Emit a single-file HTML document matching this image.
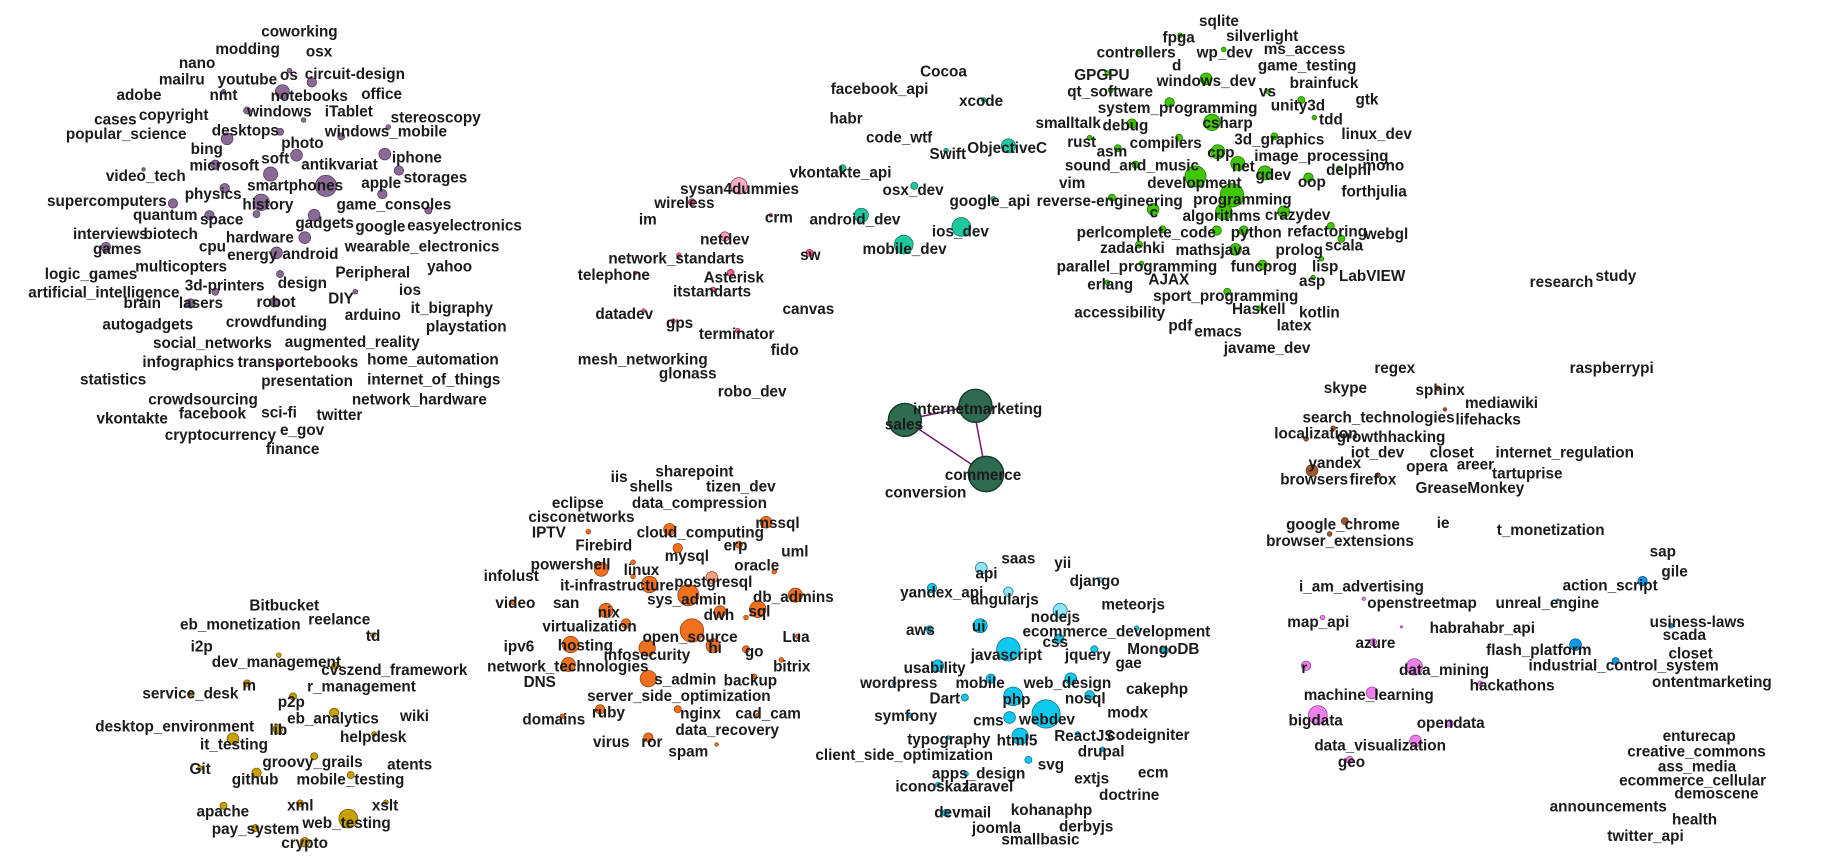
<!DOCTYPE html>
<html><head><meta charset="utf-8"><style>
html,body{margin:0;padding:0;background:#fff;width:1845px;height:861px;overflow:hidden}
svg{display:block}
text{font-family:"Liberation Sans",Arial,sans-serif;font-size:13px;font-weight:bold;fill:#1a1a1a}
.p circle{fill:#8a6a96;stroke:#4a3552;stroke-width:.6}
.g circle{fill:#3fc800;stroke:#1d6a00;stroke-width:.6}
.t circle{fill:#1fc9a0;stroke:#0d6a52;stroke-width:.6}
.k circle{fill:#f06090;stroke:#8a2a4a;stroke-width:.6}
.o circle{fill:#f07020;stroke:#8a3a08;stroke-width:.6}
.c circle{fill:#10c8ee;stroke:#0a6a80;stroke-width:.6}
.m circle{fill:#ee80ee;stroke:#8a3a8a;stroke-width:.6}
.b circle{fill:#1098e8;stroke:#0a5080;stroke-width:.6}
.y circle{fill:#c8a000;stroke:#6a5000;stroke-width:.6}
.s circle{fill:#a0582a;stroke:#5a2a10;stroke-width:.6}
.d circle{fill:#2e6b50;stroke:#123a28;stroke-width:1.2}
</style></head><body>
<svg width="1845" height="861" viewBox="0 0 1568 732" preserveAspectRatio="none" xmlns="http://www.w3.org/2000/svg">
<g class="p">
<circle cx="277" cy="158" r="9"/><circle cx="222" cy="172" r="7"/><circle cx="240" cy="78" r="6"/><circle cx="230" cy="148" r="6"/><circle cx="252" cy="132" r="5"/><circle cx="193" cy="118" r="5"/><circle cx="183" cy="140" r="4"/><circle cx="267" cy="183" r="5"/><circle cx="259" cy="202" r="5"/><circle cx="235" cy="215" r="5"/><circle cx="327" cy="131" r="5"/><circle cx="325" cy="165" r="4"/><circle cx="339" cy="145" r="4"/><circle cx="265" cy="70" r="4"/><circle cx="210" cy="94" r="3"/><circle cx="191" cy="160" r="4"/><circle cx="178" cy="183" r="4"/><circle cx="147" cy="173" r="4"/><circle cx="90" cy="210" r="4"/><circle cx="364" cy="179" r="3"/><circle cx="162" cy="258" r="4"/><circle cx="233" cy="257" r="4"/><circle cx="238" cy="233" r="3"/><circle cx="183" cy="248" r="3"/><circle cx="290" cy="116" r="3"/><circle cx="218" cy="182" r="3"/><circle cx="238" cy="112" r="3"/><circle cx="258" cy="102" r="2"/><circle cx="302" cy="248" r="2"/><circle cx="246" cy="60" r="2"/><circle cx="190" cy="78" r="2"/><circle cx="330" cy="108" r="2"/><circle cx="238" cy="310" r="2"/><circle cx="122" cy="144" r="1.5"/>
</g>
<g>
<text x="222" y="31">coworking</text><text x="183" y="46">modding</text><text x="260" y="48">osx</text><text x="152" y="58">nano</text><text x="135" y="72">mailru</text><text x="185" y="72">youtube</text><text x="238" y="68">os</text><text x="259" y="67">circuit-design</text><text x="99" y="85">adobe</text><text x="178" y="85">nmt</text><text x="230" y="86">notebooks</text><text x="307" y="84">office</text><text x="80" y="106">cases</text><text x="118" y="102">copyright</text><text x="210" y="99">windows</text><text x="276" y="99">iTablet</text><text x="332" y="104">stereoscopy</text><text x="56" y="118">popular_science</text><text x="180" y="115">desktops</text><text x="276" y="116">windows_mobile</text><text x="162" y="131">bing</text><text x="239" y="126">photo</text><text x="161" y="145">microsoft</text><text x="222" y="139">soft</text><text x="256" y="144">antikvariat</text><text x="333" y="138">iphone</text><text x="90" y="154">video_tech</text><text x="307" y="160">apple</text><text x="343" y="155">storages</text><text x="157" y="169">physics</text><text x="210" y="162">smartphones</text><text x="40" y="175">supercomputers</text><text x="206" y="178">history</text><text x="286" y="178">game_consoles</text><text x="113" y="187">quantum</text><text x="170" y="191">space</text><text x="251" y="194">gadgets</text><text x="302" y="197">google</text><text x="346" y="196">easyelectronics</text><text x="62" y="203">interviews</text><text x="122" y="203">biotech</text><text x="192" y="206">hardware</text><text x="79" y="216">games</text><text x="169" y="214">cpu</text><text x="193" y="221">energy</text><text x="240" y="220">android</text><text x="293" y="214">wearable_electronics</text><text x="363" y="231">yahoo</text><text x="38" y="237">logic_games</text><text x="115" y="231">multicopters</text><text x="285" y="236">Peripheral</text><text x="24" y="253">artificial_intelligence</text><text x="157" y="247">3d-printers</text><text x="236" y="245">design</text><text x="339" y="251">ios</text><text x="105" y="262">brain</text><text x="152" y="262">lasers</text><text x="218" y="261">robot</text><text x="279" y="258">DIY</text><text x="349" y="266">it_bigraphy</text><text x="293" y="272">arduino</text><text x="87" y="280">autogadgets</text><text x="192" y="278">crowdfunding</text><text x="362" y="282">playstation</text><text x="130" y="296">social_networks</text><text x="242" y="295">augmented_reality</text><text x="121" y="312">infographics</text><text x="202" y="312">transportebooks</text><text x="312" y="310">home_automation</text><text x="68" y="327">statistics</text><text x="222" y="328">presentation</text><text x="312" y="327">internet_of_things</text><text x="126" y="344">crowdsourcing</text><text x="299" y="344">network_hardware</text><text x="82" y="360">vkontakte</text><text x="152" y="356">facebook</text><text x="222" y="355">sci-fi</text><text x="269" y="357">twitter</text><text x="140" y="374">cryptocurrency</text><text x="238" y="370">e_gov</text><text x="226" y="386">finance</text>
</g>
<g class="g">
<circle cx="1047" cy="166" r="10"/><circle cx="1016" cy="150" r="9"/><circle cx="1030" cy="104" r="7"/><circle cx="1035" cy="129" r="6"/><circle cx="1052" cy="139" r="6"/><circle cx="1075" cy="147" r="6"/><circle cx="1040" cy="180" r="7"/><circle cx="1025" cy="67" r="5"/><circle cx="1091" cy="180" r="5"/><circle cx="1057" cy="196" r="4"/><circle cx="1050" cy="212" r="5"/><circle cx="1112" cy="151" r="4"/><circle cx="962" cy="105" r="4"/><circle cx="994" cy="87" r="4"/><circle cx="980" cy="178" r="5"/><circle cx="1073" cy="225" r="4"/><circle cx="1131" cy="192" r="3"/><circle cx="950" cy="126" r="3"/><circle cx="1002" cy="117" r="3"/><circle cx="965" cy="140" r="3"/><circle cx="945" cy="168" r="3"/><circle cx="988" cy="195" r="3"/><circle cx="968" cy="208" r="3"/><circle cx="1083" cy="116" r="3"/><circle cx="1106" cy="85" r="3"/><circle cx="1043" cy="248" r="3"/><circle cx="970" cy="224" r="2"/><circle cx="1070" cy="262" r="2"/><circle cx="1034" cy="196" r="4"/><circle cx="1140" cy="203" r="3"/><circle cx="1117" cy="100" r="2"/><circle cx="1040" cy="42" r="2"/><circle cx="968" cy="44" r="2"/><circle cx="1003" cy="30" r="2"/><circle cx="941" cy="62" r="2"/><circle cx="944" cy="77" r="2"/><circle cx="1078" cy="78" r="2"/><circle cx="926" cy="117" r="2"/><circle cx="1138" cy="143" r="2"/><circle cx="941" cy="240" r="2"/><circle cx="1123" cy="220" r="2"/><circle cx="1116" cy="236" r="2"/>
</g>
<g>
<text x="1019" y="22">sqlite</text><text x="988" y="36">fpga</text><text x="1042" y="35">silverlight</text><text x="932" y="49">controllers</text><text x="1017" y="49">wp_dev</text><text x="1074" y="46">ms_access</text><text x="996" y="60">d</text><text x="1069" y="60">game_testing</text><text x="913" y="68">GPGPU</text><text x="983" y="73">windows_dev</text><text x="1096" y="75">brainfuck</text><text x="907" y="82">qt_software</text><text x="1070" y="82">vs</text><text x="1152" y="89">gtk</text><text x="933" y="96">system_programming</text><text x="1080" y="94">unity3d</text><text x="880" y="109">smalltalk</text><text x="937" y="111">debug</text><text x="1022" y="109">csharp</text><text x="1121" y="106">tdd</text><text x="1140" y="118">linux_dev</text><text x="907" y="125">rust</text><text x="932" y="133">asm</text><text x="960" y="126">compilers</text><text x="1049" y="123">3d_graphics</text><text x="1026" y="134">cpp</text><text x="1066" y="137">image_processing</text><text x="905" y="145">sound_and_music</text><text x="1047" y="146">net</text><text x="1067" y="153">gdev</text><text x="1127" y="149">delphi</text><text x="1158" y="145">mono</text><text x="900" y="160">vim</text><text x="975" y="160">development</text><text x="1103" y="159">oop</text><text x="1140" y="167">forthjulia</text><text x="881" y="175">reverse-engineering</text><text x="1014" y="174">programming</text><text x="977" y="185">c</text><text x="1005" y="188">algorithms</text><text x="1075" y="187">crazydev</text><text x="915" y="202">perlcomplete_code</text><text x="1046" y="202">python</text><text x="1094" y="201">refactoring</text><text x="1160" y="203">webgl</text><text x="935" y="215">zadachki</text><text x="999" y="217">mathsjava</text><text x="1084" y="217">prolog</text><text x="1126" y="213">scala</text><text x="1115" y="231">lisp</text><text x="898" y="231">parallel_programming</text><text x="1046" y="231">funcprog</text><text x="1138" y="239">LabVIEW</text><text x="924" y="246">erlang</text><text x="976" y="242">AJAX</text><text x="1104" y="243">asp</text><text x="980" y="256">sport_programming</text><text x="913" y="270">accessibility</text><text x="1047" y="267">Haskell</text><text x="1104" y="270">kotlin</text><text x="993" y="281">pdf</text><text x="1085" y="281">latex</text><text x="1015" y="286">emacs</text><text x="1040" y="300">javame_dev</text>
<text x="1300" y="244">research</text><text x="1356" y="239">study</text>
</g>
<g class="t">
<circle cx="857" cy="124" r="6"/><circle cx="817" cy="193" r="8"/><circle cx="768" cy="208" r="8"/><circle cx="732" cy="183" r="6"/><circle cx="777" cy="158" r="3"/><circle cx="804" cy="128" r="2"/><circle cx="716" cy="143" r="3"/><circle cx="836" cy="85" r="2"/><circle cx="844" cy="169" r="2"/>
</g>
<g>
<text x="782" y="65">Cocoa</text><text x="706" y="80">facebook_api</text><text x="815" y="90">xcode</text><text x="705" y="105">habr</text><text x="736" y="121">code_wtf</text><text x="790" y="135">Swift</text><text x="822" y="130">ObjectiveC</text><text x="671" y="151">vkontakte_api</text><text x="750" y="166">osx_dev</text><text x="807" y="175">google_api</text><text x="688" y="191">android_dev</text><text x="792" y="201">ios_dev</text><text x="733" y="216">mobile_dev</text>
</g>
<g class="k">
<circle cx="628" cy="158" r="7" style="fill:#f8b0c8"/><circle cx="588" cy="172" r="3"/><circle cx="616" cy="201" r="4" style="fill:#f8a0c0"/><circle cx="688" cy="215" r="3"/><circle cx="577" cy="217" r="2"/><circle cx="621" cy="232" r="3"/><circle cx="606" cy="246" r="2"/><circle cx="572" cy="273" r="2"/><circle cx="627" cy="281" r="2"/><circle cx="547" cy="264" r="1.5"/><circle cx="655" cy="183" r="1.5"/><circle cx="540" cy="232" r="1.5"/>
</g>
<g>
<text x="578" y="165">sysan4dummies</text><text x="556" y="177">wireless</text><text x="543" y="191">im</text><text x="650" y="189">crm</text><text x="595" y="208">netdev</text><text x="517" y="224">network_standarts</text><text x="680" y="221">sw</text><text x="491" y="238">telephone</text><text x="598" y="240">Asterisk</text><text x="572" y="252">itstandarts</text><text x="665" y="267">canvas</text><text x="506" y="271">datadev</text><text x="566" y="279">gps</text><text x="594" y="288">terminator</text><text x="655" y="302">fido</text><text x="491" y="310">mesh_networking</text><text x="560" y="322">glonass</text><text x="610" y="337">robo_dev</text>
</g>
<g stroke="#7a1a70" stroke-width="1.3">
<line x1="769" y1="357" x2="827" y2="345"/><line x1="769" y1="357" x2="838" y2="403"/><line x1="827" y1="345" x2="838" y2="403"/>
</g>
<g class="d"><circle cx="769" cy="357" r="14"/><circle cx="829" cy="345" r="14"/><circle cx="838" cy="403" r="15"/></g>
<g><text x="776" y="352">internetmarketing</text><text x="752" y="365">sales</text><text x="803" y="408">commerce</text><text x="752" y="423">conversion</text></g>
<g class="s"><circle cx="1115" cy="400" r="5"/><circle cx="1143" cy="443" r="3"/><circle cx="1133" cy="364" r="2"/><circle cx="1110" cy="373" r="2"/><circle cx="1171" cy="404" r="2"/><circle cx="1222" cy="330" r="2"/><circle cx="1130" cy="454" r="2"/><circle cx="1228" cy="348" r="1.5"/></g>
<g>
<text x="1168" y="317">regex</text><text x="1334" y="317">raspberrypi</text><text x="1125" y="334">skype</text><text x="1203" y="336">sphinx</text><text x="1245" y="347">mediawiki</text><text x="1107" y="359">search_technologies</text><text x="1237" y="361">lifehacks</text><text x="1083" y="373">localization</text><text x="1136" y="376">growthhacking</text><text x="1148" y="389">iot_dev</text><text x="1215" y="389">closet</text><text x="1271" y="389">internet_regulation</text><text x="1112" y="398">yandex</text><text x="1195" y="401">opera</text><text x="1238" y="399">areer</text><text x="1088" y="412">browsers</text><text x="1147" y="412">firefox</text><text x="1268" y="407">tartuprise</text><text x="1203" y="419">GreaseMonkey</text><text x="1093" y="450">google_chrome</text><text x="1221" y="449">ie</text><text x="1272" y="455">t_monetization</text><text x="1076" y="464">browser_extensions</text>
</g>
<g class="o">
<circle cx="588" cy="536" r="10"/><circle cx="585" cy="506" r="9"/><circle cx="485" cy="548" r="7"/><circle cx="515" cy="519" r="6"/><circle cx="551" cy="577" r="7"/><circle cx="550" cy="551" r="7"/><circle cx="511" cy="484" r="6"/><circle cx="676" cy="506" r="6"/><circle cx="644" cy="518" r="7"/><circle cx="606" cy="549" r="6"/><circle cx="532" cy="530" r="4"/><circle cx="651" cy="444" r="5"/><circle cx="569" cy="450" r="5"/><circle cx="576" cy="466" r="4"/><circle cx="605" cy="491" r="5" style="fill:#f8a080"/><circle cx="612" cy="520" r="5"/><circle cx="552" cy="497" r="7"/><circle cx="510" cy="603" r="4"/><circle cx="551" cy="627" r="4"/><circle cx="483" cy="565" r="6"/><circle cx="628" cy="463" r="3"/><circle cx="641" cy="575" r="2"/><circle cx="538" cy="478" r="2"/><circle cx="634" cy="552" r="3"/><circle cx="538" cy="490" r="2"/><circle cx="500" cy="452" r="2"/><circle cx="436" cy="512" r="2"/><circle cx="664" cy="561" r="2"/><circle cx="658" cy="486" r="2"/><circle cx="576" cy="603" r="3"/><circle cx="644" cy="608" r="1.5"/><circle cx="478" cy="609" r="2"/><circle cx="609" cy="633" r="1.5"/><circle cx="634" cy="525" r="2"/><circle cx="678" cy="541" r="2"/>
</g>
<g>
<text x="557" y="405">sharepoint</text><text x="519" y="410">iis</text><text x="535" y="418">shells</text><text x="600" y="418">tizen_dev</text><text x="469" y="432">eclipse</text><text x="537" y="432">data_compression</text><text x="449" y="444">cisconetworks</text><text x="452" y="457">IPTV</text><text x="541" y="457">cloud_computing</text><text x="642" y="449">mssql</text><text x="489" y="468">Firebird</text><text x="565" y="477">mysql</text><text x="615" y="468">erp</text><text x="664" y="473">uml</text><text x="451" y="484">powershell</text><text x="530" y="489">linux</text><text x="624" y="485">oracle</text><text x="411" y="494">infolust</text><text x="476" y="502">it-infrastructure</text><text x="573" y="499">postgresql</text><text x="640" y="512">db_admins</text><text x="421" y="517">video</text><text x="470" y="517">san</text><text x="550" y="514">sys_admin</text><text x="598" y="527">dwh</text><text x="636" y="524">sql</text><text x="508" y="525">nix</text><text x="461" y="537">virtualization</text><text x="665" y="546">Lua</text><text x="428" y="554">ipv6</text><text x="474" y="553">hosting</text><text x="546" y="546">open_source</text><text x="513" y="561">infosecurity</text><text x="602" y="555">hi</text><text x="633" y="558">go</text><text x="414" y="571">network_technologies</text><text x="657" y="571">bitrix</text><text x="445" y="584">DNS</text><text x="556" y="582">s_admin</text><text x="615" y="583">backup</text><text x="499" y="596">server_side_optimization</text><text x="503" y="610">ruby</text><text x="578" y="611">nginx</text><text x="625" y="611">cad_cam</text><text x="444" y="616">domains</text><text x="574" y="625">data_recovery</text><text x="504" y="635">virus</text><text x="545" y="635">ror</text><text x="568" y="643">spam</text>
</g>
<g class="c">
<circle cx="889" cy="607" r="12"/><circle cx="857" cy="552" r="10"/><circle cx="861" cy="592" r="8"/><circle cx="867" cy="626" r="7"/><circle cx="833" cy="532" r="6"/><circle cx="901" cy="519" r="6" style="fill:#90e4f8"/><circle cx="910" cy="577" r="5"/><circle cx="900" cy="543" r="4"/><circle cx="858" cy="610" r="5"/><circle cx="842" cy="577" r="4"/><circle cx="797" cy="566" r="5"/><circle cx="790" cy="535" r="3"/><circle cx="834" cy="483" r="5" style="fill:#90e4f8"/><circle cx="792" cy="500" r="4"/><circle cx="857" cy="503" r="4" style="fill:#90e4f8"/><circle cx="874" cy="646" r="3"/><circle cx="820" cy="593" r="3"/><circle cx="930" cy="552" r="3"/><circle cx="926" cy="591" r="4"/><circle cx="935" cy="493" r="2" style="fill:#90e4f8"/><circle cx="966" cy="534" r="2"/><circle cx="990" cy="553" r="3"/><circle cx="916" cy="624" r="2"/><circle cx="937" cy="637" r="2"/><circle cx="821" cy="658" r="2"/><circle cx="804" cy="691" r="3"/><circle cx="797" cy="667" r="2"/><circle cx="773" cy="608" r="2"/><circle cx="806" cy="627" r="1.5"/><circle cx="760" cy="581" r="1.5"/>
</g>
<g>
<text x="851" y="479">saas</text><text x="896" y="483">yii</text><text x="829" y="492">api</text><text x="909" y="498">django</text><text x="765" y="508">yandex_api</text><text x="825" y="514">angularjs</text><text x="876" y="529">nodejs</text><text x="936" y="518">meteorjs</text><text x="770" y="540">aws</text><text x="826" y="537">ui</text><text x="869" y="541">ecommerce_development</text><text x="886" y="550">css</text><text x="825" y="561">javascript</text><text x="905" y="561">jquery</text><text x="958" y="556">MongoDB</text><text x="768" y="572">usability</text><text x="948" y="568">gae</text><text x="812" y="585">mobile</text><text x="870" y="585">web_design</text><text x="731" y="585">wordpress</text><text x="957" y="590">cakephp</text><text x="790" y="598">Dart</text><text x="852" y="599">php</text><text x="905" y="598">nosql</text><text x="743" y="613">symfony</text><text x="941" y="610">modx</text><text x="827" y="617">cms</text><text x="866" y="616">webdev</text><text x="896" y="630">ReactJS</text><text x="941" y="629">codeigniter</text><text x="771" y="633">typography</text><text x="847" y="634">html5</text><text x="916" y="643">drupal</text><text x="693" y="646">client_side_optimization</text><text x="792" y="662">apps_design</text><text x="882" y="654">svg</text><text x="967" y="661">ecm</text><text x="913" y="666">extjs</text><text x="761" y="673">iconoskaz</text><text x="820" y="673">laravel</text><text x="934" y="680">doctrine</text><text x="859" y="693">kohanaphp</text><text x="794" y="695">devmail</text><text x="826" y="708">joomla</text><text x="900" y="707">derbyjs</text><text x="851" y="718">smallbasic</text>
</g>
<g class="m">
<circle cx="1202" cy="567" r="7"/><circle cx="1120" cy="608" r="8"/><circle cx="1166" cy="589" r="5"/><circle cx="1110" cy="566" r="4"/><circle cx="1203" cy="630" r="5"/><circle cx="1232" cy="615" r="3"/><circle cx="1167" cy="546" r="3"/><circle cx="1124" cy="525" r="2"/><circle cx="1147" cy="646" r="3"/><circle cx="1159" cy="509" r="1.5"/><circle cx="1258" cy="581" r="2"/><circle cx="1191" cy="533" r="1"/>
</g>
<g>
<text x="1104" y="503">i_am_advertising</text><text x="1162" y="517">openstreetmap</text><text x="1094" y="533">map_api</text><text x="1215" y="538">habrahabr_api</text><text x="1152" y="551">azure</text><text x="1106" y="572">r</text><text x="1189" y="574">data_mining</text><text x="1249" y="587">hackathons</text><text x="1108" y="595">machine_learning</text><text x="1095" y="617">bigdata</text><text x="1204" y="619">opendata</text><text x="1117" y="638">data_visualization</text><text x="1137" y="652">geo</text>
</g>
<g class="b"><circle cx="1396" cy="494" r="4"/><circle cx="1339" cy="548" r="5"/><circle cx="1373" cy="562" r="3"/><circle cx="1324" cy="510" r="1"/><circle cx="1420" cy="532" r="2"/></g>
<g>
<text x="1402" y="473">sap</text><text x="1412" y="490">gile</text><text x="1328" y="502">action_script</text><text x="1271" y="517">unreal_engine</text><text x="1402" y="533">usiness-laws</text><text x="1413" y="544">scada</text><text x="1263" y="557">flash_platform</text><text x="1418" y="560">closet</text><text x="1299" y="570">industrial_control_system</text><text x="1404" y="584">ontentmarketing</text><text x="1413" y="630">enturecap</text><text x="1383" y="643">creative_commons</text><text x="1409" y="656">ass_media</text><text x="1376" y="668">ecommerce_cellular</text><text x="1423" y="679">demoscene</text><text x="1317" y="690">announcements</text><text x="1421" y="701">health</text><text x="1366" y="715">twitter_api</text>
</g>
<g class="y">
<circle cx="296" cy="696" r="8"/><circle cx="236" cy="620" r="4"/><circle cx="210" cy="581" r="3"/><circle cx="249" cy="592" r="3"/><circle cx="255" cy="683" r="3"/><circle cx="190" cy="685" r="3"/><circle cx="259" cy="716" r="4"/><circle cx="218" cy="657" r="4"/><circle cx="170" cy="653" r="2"/><circle cx="298" cy="659" r="3"/><circle cx="237" cy="557" r="2"/><circle cx="198" cy="628" r="5"/><circle cx="284" cy="606" r="4"/><circle cx="317" cy="540" r="2"/><circle cx="285" cy="566" r="3"/><circle cx="318" cy="624" r="2"/><circle cx="267" cy="643" r="3"/><circle cx="163" cy="590" r="2"/><circle cx="217" cy="704" r="3"/><circle cx="328" cy="682" r="2"/>
</g>
<g>
<text x="212" y="519">Bitbucket</text><text x="153" y="535">eb_monetization</text><text x="262" y="531">reelance</text><text x="311" y="545">td</text><text x="162" y="554">i2p</text><text x="180" y="567">dev_management</text><text x="273" y="574">cvszend_framework</text><text x="121" y="594">service_desk</text><text x="206" y="587">m</text><text x="261" y="588">r_management</text><text x="236" y="601">p2p</text><text x="81" y="622">desktop_environment</text><text x="244" y="615">eb_analytics</text><text x="229" y="625">lib</text><text x="340" y="613">wiki</text><text x="170" y="637">it_testing</text><text x="289" y="631">helpdesk</text><text x="223" y="652">groovy_grails</text><text x="329" y="654">atents</text><text x="161" y="658">Git</text><text x="197" y="667">github</text><text x="252" y="667">mobile_testing</text><text x="244" y="689">xml</text><text x="316" y="689">xslt</text><text x="167" y="694">apache</text><text x="180" y="709">pay_system</text><text x="257" y="704">web_testing</text><text x="239" y="721">crypto</text>
</g>
</svg>
</body></html>
